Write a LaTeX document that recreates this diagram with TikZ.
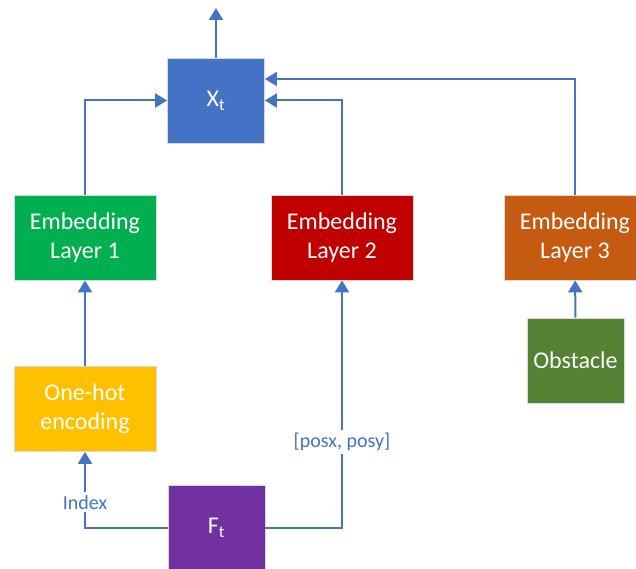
\documentclass[tikz,border=0pt]{standalone}
\usepackage{fontspec}
\setmainfont{Carlito}
\usetikzlibrary{arrows.meta}
\definecolor{xblue}{HTML}{4472C4}
\definecolor{xgreen}{HTML}{00B050}
\definecolor{xred}{HTML}{C00000}
\definecolor{xorange}{HTML}{C55A11}
\definecolor{xolive}{HTML}{548235}
\definecolor{xyellow}{HTML}{FFC000}
\definecolor{xpurple}{HTML}{7030A0}
\tikzset{
  box/.style={draw=gray!30, line width=0.8pt, text=white, align=center,
    font=\fontsize{24}{29}\selectfont, inner sep=2pt},
  wide/.style={minimum width=142pt, minimum height=85pt},
  narrow/.style={minimum width=97pt, minimum height=85pt},
  conn/.style={draw=xblue, line width=2pt, -{Triangle[length=12pt,width=14pt]}},
  lbl/.style={fill=white, text=xblue, font=\fontsize{20}{24}\selectfont, inner sep=3pt},
}
\begin{document}
\begin{tikzpicture}[x=1pt,y=-1pt]
\useasboundingbox (0,0) rectangle (636,569);
\node[box, narrow, fill=xblue] (X) at (216,100.5) {X\textsubscript{t}};
\node[box, wide, fill=xgreen] (E1) at (85,237.5) {Embedding\\Layer 1};
\node[box, wide, fill=xred] (E2) at (342,237.5) {Embedding\\Layer 2};
\node[box, wide, fill=xorange] (E3) at (575,237.5) {Embedding\\Layer 3};
\node[box, narrow, fill=xolive] (O) at (575.5,360.5) {Obstacle};
\node[box, wide, fill=xyellow] (H) at (85,409) {One-hot\\encoding};
\node[box, narrow, fill=xpurple] (F) at (216.5,528) {F\textsubscript{t}};
\coordinate (top) at (216,8);
\coordinate (in3) at ([yshift=21.5pt]X.east);
\draw[conn] (X) -- (top);
\draw[conn] (E1.north) |- (X.west);
\draw[conn] (E2.north) |- (X.east);
\draw[conn] (E3.north) |- (in3);
\draw[conn] (O) -- (E3);
\draw[conn] (H) -- (E1);
\draw[conn] (F.west) -| node[lbl, pos=0.67] {Index} (H.south);
\draw[conn] (F.east) -| node[lbl, pos=0.673] {[posx, posy]} (E2.south);
\end{tikzpicture}
\end{document}
